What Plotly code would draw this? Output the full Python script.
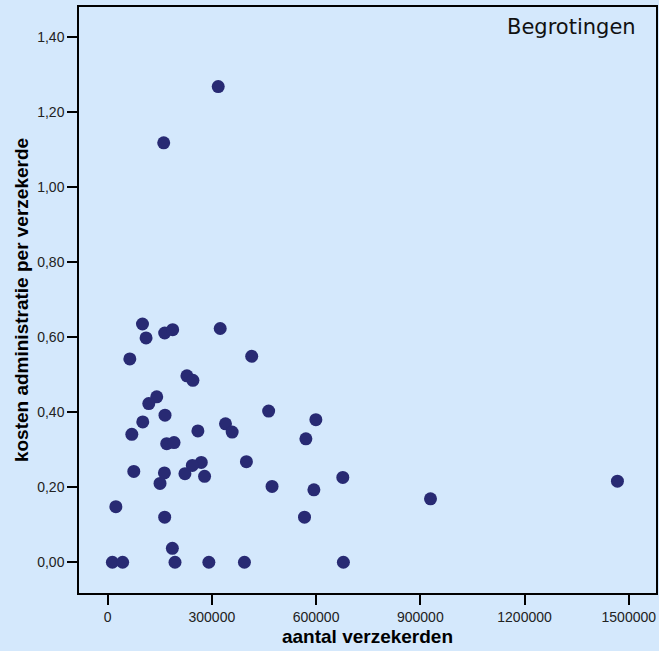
import plotly.graph_objects as go

# aantal verzekerden (x) and kosten administratie per verzekerde (y)
aantal = [
    100400, 110700, 164300, 187300, 324100, 64000, 414700, 228300, 245500,
    141400, 118500, 165200, 101200, 69700, 463500, 599400, 339300, 358500,
    259900, 170100, 191200, 570700, 399500, 269600, 243800, 222600, 279100,
    75400, 163500, 150900, 473300, 593700, 676900, 23800, 164300, 566700,
    186400, 13800, 43300, 194000, 291400, 393800, 678600, 161500, 318400,
    929300, 1467300,
]
kosten = [
    0.635, 0.598, 0.611, 0.620, 0.623, 0.542, 0.549, 0.497, 0.485,
    0.441, 0.423, 0.392, 0.374, 0.341, 0.403, 0.380, 0.369, 0.347,
    0.350, 0.316, 0.319, 0.329, 0.268, 0.266, 0.258, 0.236, 0.229,
    0.242, 0.238, 0.210, 0.202, 0.193, 0.226, 0.148, 0.120, 0.120,
    0.037, 0.0, 0.0, 0.0, 0.0, 0.0, 0.0, 1.118, 1.268,
    0.169, 0.216,
]

x_tickvals = [0, 300000, 600000, 900000, 1200000, 1500000]
x_ticktext = ["0", "300000", "600000", "900000", "1200000", "1500000"]
y_tickvals = [0.0, 0.2, 0.4, 0.6, 0.8, 1.0, 1.2, 1.4]
y_ticktext = ["0,00", "0,20", "0,40", "0,60", "0,80", "1,00", "1,20", "1,40"]

BG = "#D4E8FC"
DOT = "#282A73"

fig = go.Figure(
    go.Scatter(
        x=aantal,
        y=kosten,
        mode="markers",
        marker=dict(size=13, color=DOT, line=dict(width=0)),
        hoverinfo="x+y",
    )
)

axis_common = dict(
    showgrid=False,
    zeroline=False,
    showline=True,
    linecolor="black",
    linewidth=1.5,
    mirror=True,
    ticks="outside",
    ticklen=10,
    tickwidth=1.5,
    tickcolor="black",
    tickfont=dict(family="Liberation Sans, Arial, sans-serif", size=14, color="#222222"),
)

fig.update_xaxes(
    **axis_common,
    range=[-82300, 1578300],
    tickvals=x_tickvals,
    ticktext=x_ticktext,
    title=dict(
        text="aantal verzekerden",
        font=dict(family="Liberation Sans, Arial, sans-serif", size=19,
                  color="black", weight="bold"),
        standoff=6,
    ),
)
fig.update_yaxes(
    **axis_common,
    range=[-0.082, 1.48],
    tickvals=y_tickvals,
    ticktext=y_ticktext,
    title=dict(
        text="kosten administratie per verzekerde",
        font=dict(family="Liberation Sans, Arial, sans-serif", size=19,
                  color="black", weight="bold"),
        standoff=4,
    ),
)

fig.add_annotation(
    text="Begrotingen",
    xref="paper", yref="paper",
    x=0.969, y=0.966,
    xanchor="right", yanchor="middle",
    showarrow=False,
    font=dict(family="DejaVu Sans, Verdana, sans-serif", size=21, color="#111111"),
)

fig.update_layout(
    width=659,
    height=651,
    margin=dict(l=79, r=1, t=7, b=58),
    paper_bgcolor=BG,
    plot_bgcolor=BG,
    showlegend=False,
    font=dict(family="Liberation Sans, Arial, sans-serif"),
)

fig.write_html(
    "out.html",
    config={"displayModeBar": False},
    post_script="document.body.style.margin='0';document.body.style.background='%s';" % BG,
)
